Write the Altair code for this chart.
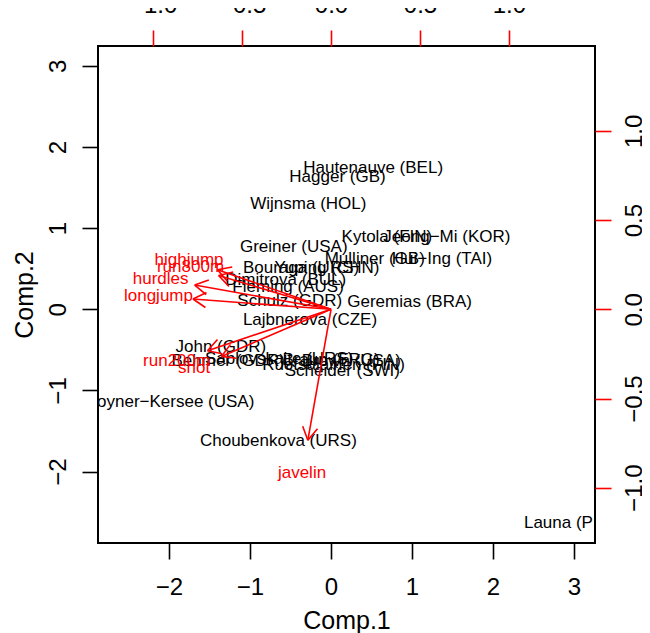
import altair as alt
import pandas as pd
import numpy as np

# ---- data ----
athletes = ["Joyner−Kersee (USA)", "John (GDR)", "Behmer (GDR)", "Sablovskaite (URS)",
            "Choubenkova (URS)", "Schulz (GDR)", "Fleming (AUS)", "Greiner (USA)",
            "Lajbnerova (CZE)", "Bouraga (URS)", "Wijnsma (HOL)", "Dimitrova (BUL)",
            "Scheider (SWI)", "Braun (FRG)", "Ruotsalainen (FIN)", "Yuping (CHN)",
            "Hagger (GB)", "Brown (USA)", "Mulliner (GB)", "Hautenauve (BEL)",
            "Kytola (FIN)", "Geremias (BRA)", "Hui−Ing (TAI)", "Jeong−Mi (KOR)", "Launa (PNG)"]
comp1 = [-1.97, -1.36, -1.27, -0.64, -0.65, -0.51, -0.53, -0.46,
         -0.26, -0.37, -0.28, -0.56,
         0.14, 0.00, 0.03, -0.05,
         0.08, 0.25, 0.54, 0.52,
         0.69, 0.97, 1.37, 1.43, 3.00]
comp2 = [-1.14, -0.46, -0.64, -0.61, -1.62, 0.10, 0.28, 0.77,
         -0.13, 0.51, 1.30, 0.36,
         -0.76, -0.63, -0.69, 0.51,
         1.63, -0.64, 0.62, 1.74,
         0.89, 0.09, 0.62, 0.89, -2.63]

variables = ["hurdles", "highjump", "shot", "run200m", "longjump", "javelin", "run800m"]
load1 = [-0.958, -0.798, -0.770, -0.868, -0.970, -0.163, -0.790]
load2 = [0.170, 0.277, -0.330, -0.290, 0.072, -0.918, 0.237]

score_ticks = [-2, -1, 0, 1, 2, 3]
load_ticks = [-1.0, -0.5, 0.0, 0.5, 1.0]

FONT = "Liberation Sans"

scores = pd.DataFrame({"name": athletes, "c1": comp1, "c2": comp2})
loads = pd.DataFrame({"var": variables, "l1": load1, "l2": load2})
loads["x0"] = 0.0
loads["y0"] = 0.0
loads["tx"] = loads["l1"] * 0.8
loads["ty"] = loads["l2"] * 0.8
loads["ang"] = (np.degrees(np.arctan2(-loads["l2"], loads["l1"])) + 360.0) % 360.0

SX = alt.Scale(domain=[-2.877, 3.259], nice=False, zero=False)
SY = alt.Scale(domain=[-2.880, 3.245], nice=False, zero=False)
LX = alt.Scale(domain=[-1.310, 1.484], nice=False, zero=False)
LY = alt.Scale(domain=[-1.310, 1.476], nice=False, zero=False)

common = dict(domain=False, grid=False, tickWidth=1.6, labelFont=FONT, labelFontSize=24,
              labelColor="black", labelOverlap=False, labelFlush=False, tickSize=16,
              titleFont=FONT, titleFontSize=25, titleFontWeight="normal", titleColor="black")

bottom_axis = alt.Axis(orient="bottom", values=score_ticks, format="d", tickColor="black",
                       labelBaseline="top", labelPadding=16, title="Comp.1",
                       titleY=85, titleBaseline="alphabetic", **common)
left_axis = alt.Axis(orient="left", values=score_ticks, format="d", tickColor="black",
                     labelAngle=270, labelAlign="center", labelBaseline="alphabetic",
                     labelPadding=17, title="Comp.2", titleAngle=270, titleAlign="center",
                     titleX=-66, titleBaseline="alphabetic", **common)
top_axis = alt.Axis(orient="top", values=load_ticks, format=".1f", tickColor="red",
                    labelBaseline="alphabetic", labelAlign="center", labelPadding=18,
                    title=None, **common)
right_axis = alt.Axis(orient="right", values=load_ticks, format=".1f", tickColor="red",
                      labelAngle=270, labelAlign="center", labelBaseline="alphabetic",
                      labelPadding=30, title=None, **common)

score_text = alt.Chart(scores).mark_text(
    font=FONT, fontSize=17, color="black", align="center", baseline="middle", clip=True
).encode(
    x=alt.X("c1:Q", scale=SX, axis=bottom_axis),
    y=alt.Y("c2:Q", scale=SY, axis=left_axis),
    text="name:N",
)

shafts = alt.Chart(loads).mark_rule(color="red", strokeWidth=1.6).encode(
    x=alt.X("x0:Q", scale=LX, axis=top_axis),
    y=alt.Y("y0:Q", scale=LY, axis=right_axis),
    x2="tx:Q",
    y2="ty:Q",
)

heads = alt.Chart(loads).mark_point(
    shape="M0,0L-1,-0.577M0,0L-1,0.577", filled=False, stroke="red",
    strokeWidth=1.6, size=676, opacity=1
).encode(
    x=alt.X("tx:Q", scale=LX, axis=top_axis),
    y=alt.Y("ty:Q", scale=LY, axis=right_axis),
    angle=alt.Angle("ang:Q", scale=None),
)

load_text = alt.Chart(loads).mark_text(
    font=FONT, fontSize=17, color="red", align="center", baseline="middle"
).encode(
    x=alt.X("l1:Q", scale=LX, axis=top_axis),
    y=alt.Y("l2:Q", scale=LY, axis=right_axis),
    text="var:N",
)

loading_layer = alt.layer(shafts, heads, load_text)

chart = alt.layer(score_text, loading_layer).resolve_scale(
    x="independent", y="independent"
).properties(
    width=497, height=497,
    padding={"left": 90, "top": 38, "right": 47, "bottom": 90},
    autosize=alt.AutoSizeParams(type="none"),
).configure(font=FONT).configure_view(stroke="black", strokeWidth=2)

chart.save("out.html", embed_options={"renderer": "svg", "actions": False})
